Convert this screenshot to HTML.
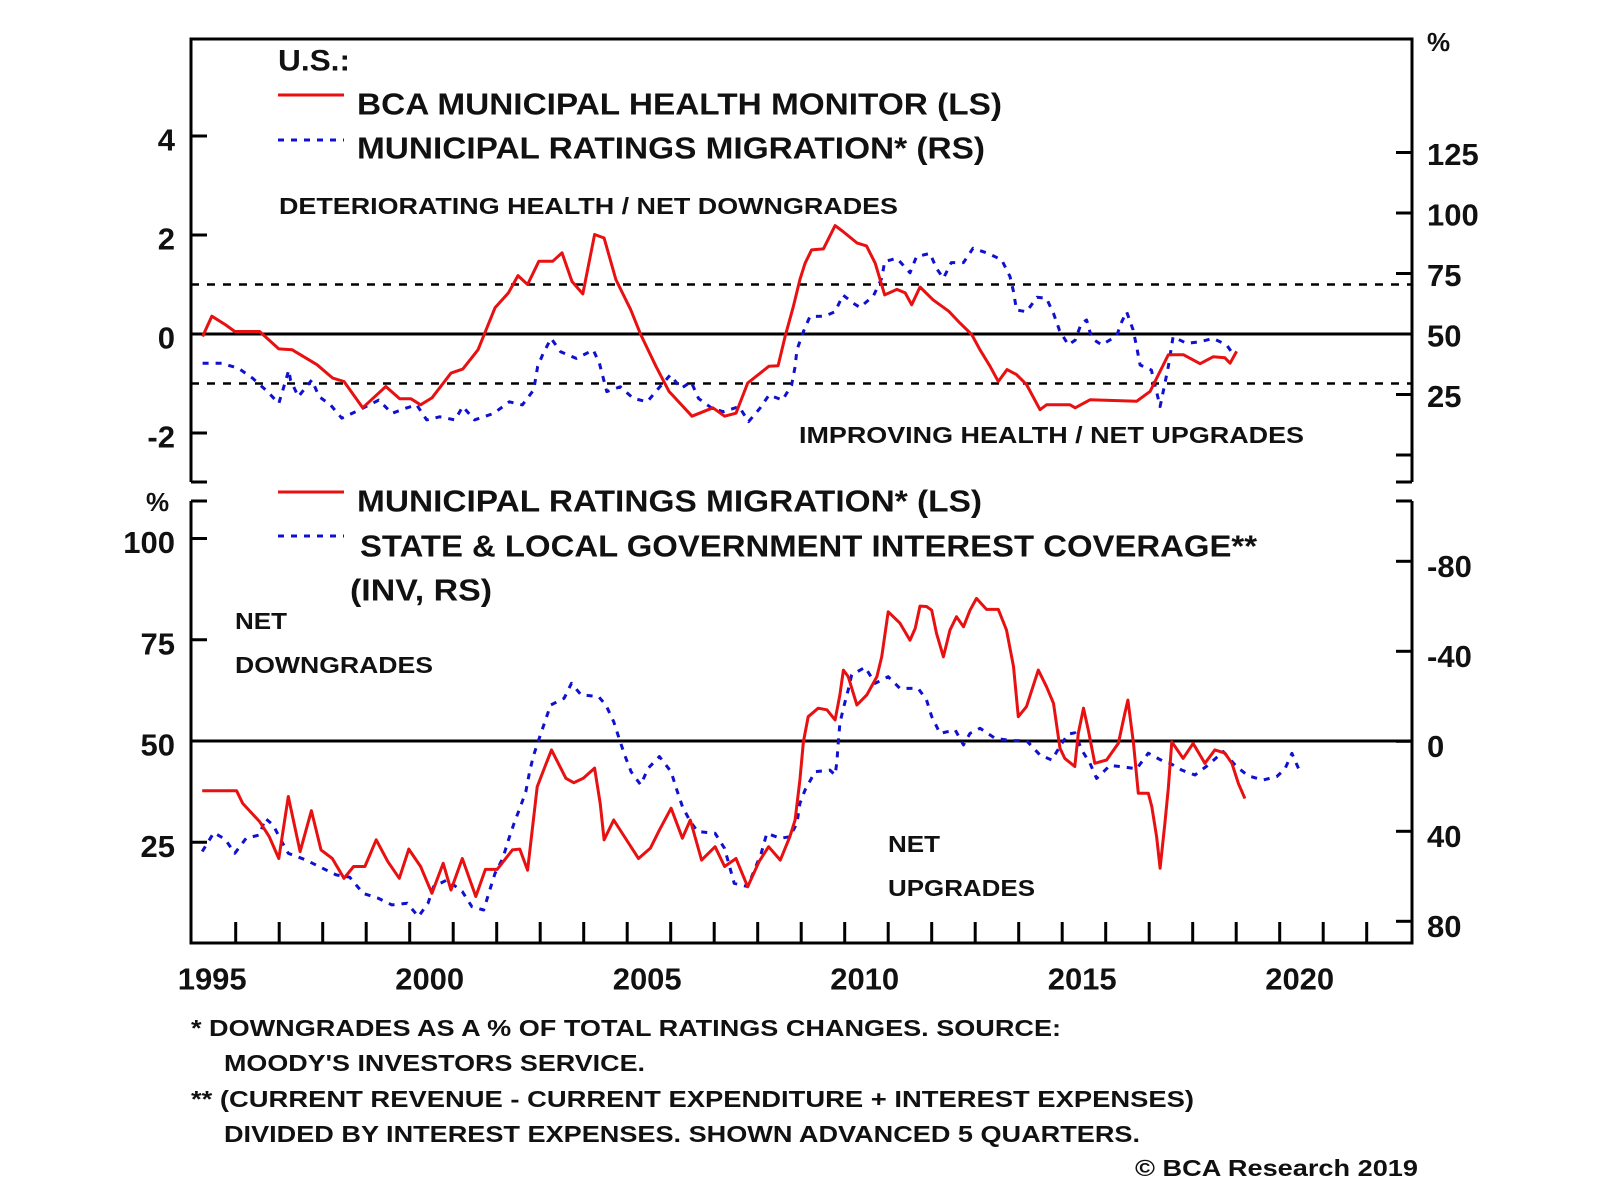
<!DOCTYPE html>
<html><head><meta charset="utf-8"><style>
html,body{margin:0;padding:0;background:#fff}
svg{display:block}
text{font-family:"Liberation Sans",Arial,sans-serif;fill:#111;dominant-baseline:central}
</style></head><body>
<svg id="chart" width="1600" height="1199" viewBox="0 0 1600 1199" xmlns="http://www.w3.org/2000/svg">
<g id="frame" stroke="#000" stroke-width="3" fill="none">
  <path d="M191,482 L191,39 L1412,39 L1412,482"/>
  <path d="M191,482 L207,482 M1412,482 L1396,482"/>
  <path d="M191,501 L191,943 L1412,943 L1412,501 M191,501 L207,501 M1412,501 L1396,501"/>
</g>
<g id="axes"></g>
<g id="series"></g>
<g id="labels" font-weight="bold">
  <text x="278" y="61" font-size="30" textLength="72" lengthAdjust="spacingAndGlyphs">U.S.:</text>
  <line x1="278" y1="95" x2="344" y2="95" stroke="#e81010" stroke-width="3"/>
  <text x="357" y="104" font-size="31" textLength="645" lengthAdjust="spacingAndGlyphs">BCA MUNICIPAL HEALTH MONITOR (LS)</text>
  <line x1="278" y1="140" x2="344" y2="140" stroke="#1010d0" stroke-width="3" stroke-dasharray="6,7"/>
  <text x="357" y="148" font-size="31" textLength="628" lengthAdjust="spacingAndGlyphs">MUNICIPAL RATINGS MIGRATION* (RS)</text>
  <text x="279" y="206" font-size="23" textLength="619" lengthAdjust="spacingAndGlyphs">DETERIORATING HEALTH / NET DOWNGRADES</text>
  <text x="799" y="435" font-size="23" textLength="505" lengthAdjust="spacingAndGlyphs">IMPROVING HEALTH / NET UPGRADES</text>
  <text x="1427" y="42" font-size="26">%</text>
  <text x="146" y="502" font-size="26">%</text>
  <line x1="278" y1="492" x2="344" y2="492" stroke="#e81010" stroke-width="3"/>
  <text x="357" y="501" font-size="31" textLength="625" lengthAdjust="spacingAndGlyphs">MUNICIPAL RATINGS MIGRATION* (LS)</text>
  <line x1="278" y1="536" x2="344" y2="536" stroke="#1010d0" stroke-width="3" stroke-dasharray="6,7"/>
  <text x="360" y="546" font-size="31" textLength="897" lengthAdjust="spacingAndGlyphs">STATE &amp; LOCAL GOVERNMENT INTEREST COVERAGE**</text>
  <text x="350" y="590" font-size="31" textLength="142" lengthAdjust="spacingAndGlyphs">(INV, RS)</text>
  <text x="235" y="621" font-size="23" textLength="52" lengthAdjust="spacingAndGlyphs">NET</text>
  <text x="235" y="665" font-size="23" textLength="198" lengthAdjust="spacingAndGlyphs">DOWNGRADES</text>
  <text x="888" y="844" font-size="23" textLength="52" lengthAdjust="spacingAndGlyphs">NET</text>
  <text x="888" y="888" font-size="23" textLength="147" lengthAdjust="spacingAndGlyphs">UPGRADES</text>
  <text x="191" y="1028" font-size="23" textLength="870" lengthAdjust="spacingAndGlyphs">*  DOWNGRADES AS A % OF TOTAL RATINGS CHANGES. SOURCE:</text>
  <text x="224" y="1063" font-size="23" textLength="421" lengthAdjust="spacingAndGlyphs">MOODY'S INVESTORS SERVICE.</text>
  <text x="191" y="1099" font-size="23" textLength="1003" lengthAdjust="spacingAndGlyphs">** (CURRENT REVENUE - CURRENT EXPENDITURE + INTEREST EXPENSES)</text>
  <text x="224" y="1134" font-size="23" textLength="916" lengthAdjust="spacingAndGlyphs">DIVIDED BY INTEREST EXPENSES. SHOWN ADVANCED 5 QUARTERS.</text>
  <text x="1135" y="1168" font-size="23" textLength="283" lengthAdjust="spacingAndGlyphs">© BCA Research 2019</text>
</g>
</svg>
<script>
// ---- data ----
const topHealthYears=[1995.24,1995.45,1995.76,1995.98,1996.55,1996.99,1997.30,1997.87,1998.23,1998.49,1998.92,1999.45,1999.77,2000.03,2000.25,2000.51,2000.95,2001.22,2001.57,2001.96,2002.27,2002.49,2002.71,2002.97,2003.29,2003.50,2003.73,2003.98,2004.25,2004.47,2004.74,2005.08,2005.31,2005.66,2005.96,2006.49,2006.97,2007.24,2007.50,2007.77,2008.26,2008.47,2008.63,2008.82,2008.97,2009.09,2009.24,2009.51,2009.78,2009.96,2010.28,2010.50,2010.70,2010.92,2011.20,2011.39,2011.54,2011.73,2012.03,2012.39,2012.65,2012.92,2013.11,2013.34,2013.53,2013.73,2013.95,2014.18,2014.49,2014.64,2015.18,2015.30,2015.64,2016.71,2017.02,2017.44,2017.79,2018.17,2018.47,2018.74,2018.86,2019.01];
const topHealthValues=[-0.05,0.36,0.19,0.05,0.05,-0.30,-0.32,-0.62,-0.89,-0.96,-1.49,-1.06,-1.31,-1.31,-1.43,-1.29,-0.79,-0.71,-0.32,0.53,0.83,1.18,1.00,1.47,1.47,1.64,1.06,0.81,2.01,1.94,1.10,0.49,-0.01,-0.65,-1.16,-1.66,-1.49,-1.66,-1.60,-0.99,-0.65,-0.64,-0.05,0.56,1.10,1.43,1.70,1.72,2.19,2.07,1.84,1.78,1.43,0.79,0.90,0.83,0.59,0.95,0.69,0.46,0.22,-0.01,-0.32,-0.65,-0.96,-0.72,-0.82,-1.02,-1.53,-1.43,-1.43,-1.49,-1.33,-1.36,-1.16,-0.42,-0.42,-0.60,-0.46,-0.48,-0.59,-0.35];
const topMigrationYears=[1995.24,1995.68,1996.07,1996.39,1996.73,1996.99,1997.22,1997.26,1997.44,1997.75,1997.92,1998.18,1998.44,1998.84,1999.29,1999.59,1999.90,2000.16,2000.39,2000.69,2001.04,2001.22,2001.49,2001.93,2002.29,2002.59,2002.85,2002.94,2003.07,2003.25,2003.47,2003.83,2004.22,2004.36,2004.53,2004.84,2005.14,2005.46,2005.72,2005.99,2006.24,2006.47,2006.64,2006.95,2007.21,2007.57,2007.79,2008.05,2008.26,2008.57,2008.78,2008.86,2008.90,2009.05,2009.20,2009.54,2009.78,2009.96,2010.20,2010.35,2010.66,2010.85,2010.92,2011.19,2011.27,2011.50,2011.65,2011.96,2012.11,2012.27,2012.45,2012.73,2012.95,2013.30,2013.61,2013.80,2013.88,2013.95,2014.18,2014.42,2014.64,2014.80,2014.94,2015.14,2015.30,2015.44,2015.56,2015.68,2015.91,2016.25,2016.37,2016.48,2016.63,2016.71,2016.79,2017.05,2017.25,2017.36,2017.44,2017.55,2017.86,2018.17,2018.47,2018.78,2018.97];
const topMigrationValues=[37.9,37.9,35.8,31.7,26.2,21.3,35.1,31.0,24.1,31.0,24.1,20.7,15.2,18.6,22.7,17.2,19.3,20.7,14.5,15.8,14.5,20.0,14.5,17.2,22.0,20.7,26.9,36.5,42.0,48.2,42.7,39.9,43.4,37.9,26.2,28.2,23.4,22.0,27.5,33.1,27.5,30.3,23.4,19.3,17.9,20.0,13.8,19.3,24.8,22.7,28.9,36.5,43.4,51.0,57.2,57.4,59.2,66.1,62.7,61.0,65.7,73.0,79.9,81.3,79.9,75.3,82.0,83.3,77.1,73.0,79.5,79.5,85.4,83.3,80.6,73.7,67.5,59.9,59.2,65.2,64.7,58.5,51.4,45.5,47.5,54.4,55.8,48.2,45.5,49.2,55.1,59.2,51.7,44.8,37.2,35.1,20.0,29.6,36.5,48.9,46.1,46.8,48.2,45.5,40.6];
const botMigrationYears=[1995.23,1996.02,1996.16,1996.55,1996.77,1996.99,1997.21,1997.48,1997.74,1997.96,1998.22,1998.49,1998.71,1998.97,1999.23,1999.50,1999.76,1999.98,2000.25,2000.51,2000.77,2000.95,2001.21,2001.52,2001.74,2002.01,2002.18,2002.36,2002.53,2002.71,2002.93,2003.11,2003.26,2003.59,2003.77,2003.99,2004.25,2004.38,2004.47,2004.69,2005.26,2005.53,2005.74,2006.01,2006.27,2006.45,2006.71,2007.02,2007.24,2007.50,2007.77,2008.03,2008.25,2008.52,2008.74,2008.86,2008.97,2009.05,2009.16,2009.39,2009.59,2009.78,2009.89,2009.97,2010.08,2010.28,2010.51,2010.74,2010.85,2011.00,2011.27,2011.50,2011.62,2011.73,2011.88,2012.00,2012.11,2012.27,2012.42,2012.57,2012.73,2012.88,2013.03,2013.26,2013.53,2013.72,2013.88,2013.99,2014.18,2014.45,2014.64,2014.80,2014.95,2015.06,2015.29,2015.37,2015.49,2015.60,2015.75,2016.02,2016.29,2016.44,2016.51,2016.64,2016.75,2016.98,2017.06,2017.17,2017.25,2017.36,2017.44,2017.52,2017.78,2018.01,2018.28,2018.51,2018.74,2018.90,2019.05,2019.20];
const botMigrationValues=[37.7,37.7,34.6,30.1,26.4,21.0,36.3,22.7,32.8,23.1,21.0,16.1,19.0,19.0,25.6,20.2,16.1,23.3,19.0,12.4,19.8,13.2,21.0,11.6,18.3,18.3,20.6,23.1,23.3,18.1,38.7,43.7,47.8,40.8,39.7,40.8,43.3,34.6,25.6,30.5,21.0,23.5,28.0,33.4,26.0,30.5,20.6,23.9,19.0,21.0,14.0,20.2,23.9,20.6,26.4,30.5,40.4,49.8,56.0,58.1,57.7,55.2,61.4,67.5,65.9,58.9,61.4,65.9,70.8,81.9,79.1,74.9,77.8,83.3,83.2,82.3,76.6,70.8,77.4,80.7,78.2,82.3,85.2,82.5,82.5,77.4,68.4,56.0,58.5,67.5,63.4,59.3,48.2,45.7,43.7,51.9,58.1,52.7,44.5,45.3,49.4,56.8,60.1,49.4,37.1,37.1,33.8,26.4,18.6,29.7,38.3,49.8,45.7,49.4,44.5,47.8,47.0,44.5,39.5,35.8];
const coverageYears=[1995.23,1995.50,1995.76,1995.98,1996.24,1996.55,1996.68,1996.86,1997.04,1997.21,1997.61,1997.92,1998.31,1998.62,1998.93,1999.28,1999.59,1999.94,2000.20,2000.42,2000.55,2000.86,2001.21,2001.43,2001.70,2001.83,2001.96,2002.14,2002.27,2002.40,2002.53,2002.67,2002.75,2002.84,2002.97,2003.15,2003.24,2003.55,2003.72,2003.94,2004.34,2004.51,2004.69,2004.82,2004.95,2005.09,2005.31,2005.48,2005.74,2006.01,2006.14,2006.27,2006.45,2006.62,2007.02,2007.24,2007.46,2007.77,2008.08,2008.21,2008.52,2008.74,2008.90,2008.97,2009.09,2009.32,2009.66,2009.78,2009.82,2009.85,2009.89,2009.97,2010.08,2010.16,2010.47,2010.70,2011.00,2011.27,2011.69,2011.88,2012.00,2012.19,2012.54,2012.73,2012.88,2013.11,2013.46,2013.84,2014.18,2014.49,2014.76,2014.99,2015.14,2015.29,2015.45,2015.64,2015.79,2016.10,2016.41,2016.71,2016.98,2017.33,2017.48,2017.75,2018.05,2018.36,2018.70,2019.01,2019.28,2019.62,2019.93,2020.12,2020.28,2020.47];
const coverageValues=[49.0,40.6,43.6,49.8,43.1,41.6,34.2,37.2,43.9,49.8,52.7,55.7,59.4,60.4,67.6,69.8,72.7,72.0,77.9,72.0,64.6,61.6,66.8,73.5,75.0,66.8,58.7,52.0,43.9,36.4,29.8,22.4,14.2,6.8,-0.9,-11.0,-16.1,-19.1,-25.8,-20.6,-19.9,-16.1,-8.7,-0.9,6.5,13.5,19.4,12.0,6.8,13.5,21.6,29.0,35.7,40.1,40.9,47.6,63.1,64.6,49.8,40.9,43.1,42.4,36.5,27.6,21.6,13.5,12.8,15.0,9.1,0.9,-8.0,-14.7,-22.8,-29.5,-32.9,-25.8,-28.7,-23.5,-23.5,-18.4,-11.0,-3.5,-5.0,1.6,-3.5,-5.8,-1.3,-0.3,-0.3,6.1,8.3,0.9,-3.2,-3.8,3.9,9.8,16.5,10.7,11.4,12.2,5.3,9.0,9.8,12.8,15.0,10.5,4.6,11.3,15.4,17.2,15.7,12.3,5.4,13.7];
const xTickLabels=[1995,2000,2005,2010,2015,2020];
const topLeftTicks=[4,2,0,-2];
const topRightTicks=[125,100,75,50,25];
const botLeftTicks=[100,75,50,25];
const botRightTicks=[-80,-40,0,40,80];

// ---- scales ----
const X=y=>192.2+43.5*(y-1995);
const YtL=v=>334-49.5*v;
const YtR=v=>334-(v-50)*2.42;
const YbL=v=>741-(v-50)*4.05;
const YbR=v=>741.3+v*2.25;
const NS='http://www.w3.org/2000/svg';
function mk(tag,attrs,parent){const e=document.createElementNS(NS,tag);for(const k in attrs)e.setAttribute(k,attrs[k]);parent.appendChild(e);return e;}
const axes=document.getElementById('axes'),series=document.getElementById('series');

let l=mk('line',{x1:191,x2:1412,y1:YtL(0),y2:YtL(0),stroke:'#000','stroke-width':3},axes);


[1,-1].forEach(v=>{const d=mk('line',{x1:191,x2:1412,y1:YtL(v),y2:YtL(v),stroke:'#000','stroke-width':2.5,'stroke-dasharray':'8,8'},axes);

});
l=mk('line',{x1:191,x2:1412,y1:YbL(50),y2:YbL(50),stroke:'#000','stroke-width':3},axes);



function tickLbl(x,y,txt,anchor,name){const t=mk('text',{x:x,y:y,'font-size':31,'font-weight':'bold','text-anchor':anchor},axes);t.textContent=txt;

}
topLeftTicks.forEach(v=>{const t=mk('line',{x1:191,x2:207,y1:YtL(v),y2:YtL(v),stroke:'#000','stroke-width':3},axes);


tickLbl(175,YtL(v)+4,v,'end','top-left-tick-label');});
topRightTicks.concat([0]).forEach(v=>{const t=mk('line',{x1:1396,x2:1412,y1:YtR(v),y2:YtR(v),stroke:'#000','stroke-width':3},axes);

});
topRightTicks.forEach(v=>tickLbl(1427,YtR(v)+2,v,'start','top-right-tick-label'));
botLeftTicks.forEach(v=>{const t=mk('line',{x1:191,x2:207,y1:YbL(v),y2:YbL(v),stroke:'#000','stroke-width':3},axes);


tickLbl(175,YbL(v)+4,v,'end','bottom-left-tick-label');});
botRightTicks.forEach(v=>{const t=mk('line',{x1:1396,x2:1412,y1:YbR(v),y2:YbR(v),stroke:'#000','stroke-width':3},axes);


tickLbl(1427,YbR(v)+5,v,'start','bottom-right-tick-label');});
for(let yr=1996;yr<=2022;yr++){const t=mk('line',{x1:X(yr),x2:X(yr),y1:922,y2:943,stroke:'#000','stroke-width':3},axes);

}
xTickLabels.forEach(yr=>tickLbl(X(yr)+20,979,yr,'middle','x-tick-label'));

function line(xs,vs,ys,color,dash,name){const d=xs.map((x,i)=>(i?'L':'M')+X(x).toFixed(1)+','+ys(vs[i]).toFixed(1)).join(' ');
const p=mk('path',{d:d,fill:'none',stroke:color,'stroke-width':3,'stroke-linejoin':'round'},series);
if(dash)p.setAttribute('stroke-dasharray',dash);

}
line(topMigrationYears,topMigrationValues,YtR,'#1010d0','6,7','top-ratings-migration-line');
line(topHealthYears,topHealthValues,YtL,'#e81010',null,'health-monitor-line');
line(coverageYears,coverageValues,YbR,'#1010d0','6,7','interest-coverage-line');
line(botMigrationYears,botMigrationValues,YbL,'#e81010',null,'bottom-ratings-migration-line');
</script>
</body></html>
